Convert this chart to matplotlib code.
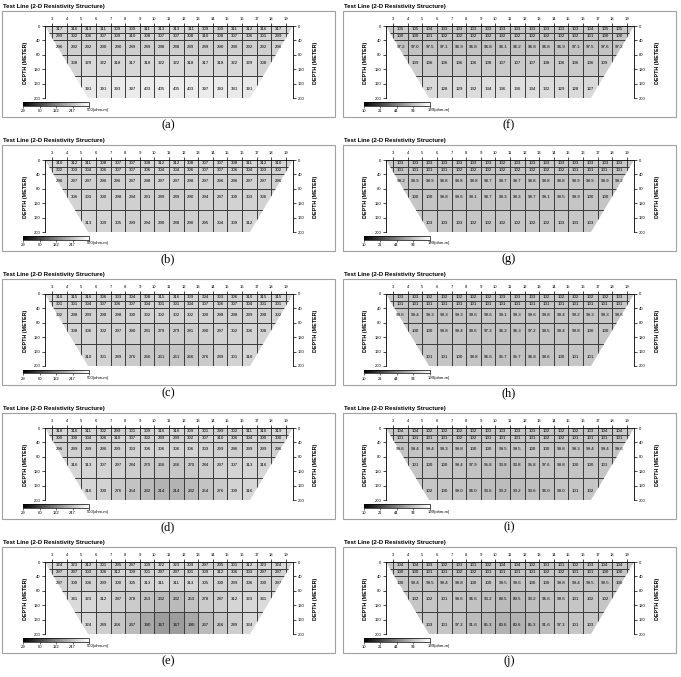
import numpy as np
import matplotlib.pyplot as plt
import matplotlib.cm as cm
from matplotlib.colors import LogNorm
from matplotlib.patches import Polygon, Rectangle
from matplotlib.ticker import NullLocator

W, H = 681, 677

# layer boundaries (m) and depth at which each layer's values are printed
layer_edges = [0, 19.5, 40, 80, 140, 200]
text_depths = [8.5, 28, 58, 104, 175]
electrodes = list(range(3, 20))
depth_ticks = [0, 40, 80, 120, 160, 200]
bar_ticks_left = [29, 60, 122, 247, 500]
bar_ticks_right = [10, 21, 44, 94, 199]
letters = ["a", "b", "c", "d", "e", "f", "g", "h", "i", "j"]

panel_a = [
    [317, 316, 313, 311, 309, 309, 311, 313, 313, 311, 309, 309, 311, 312, 316, 317],
    [299, 302, 306, 307, 309, 310, 308, 307, 307, 308, 310, 308, 307, 306, 301, 299],
    [296, 292, 292, 290, 290, 289, 289, 288, 288, 289, 289, 290, 290, 292, 292, 296],
    [308, 329, 322, 318, 317, 318, 322, 322, 318, 317, 318, 322, 329, 308],
    [391, 391, 393, 397, 403, 405, 405, 403, 397, 393, 391, 391],
]
panel_b = [
    [310, 312, 311, 308, 307, 307, 308, 312, 312, 308, 307, 307, 308, 311, 312, 310],
    [302, 303, 304, 306, 307, 307, 306, 304, 304, 306, 307, 307, 306, 304, 303, 302],
    [296, 297, 297, 296, 296, 297, 298, 297, 297, 298, 297, 296, 296, 297, 297, 296],
    [306, 303, 300, 298, 294, 291, 289, 289, 290, 294, 297, 300, 303, 306],
    [313, 309, 305, 299, 294, 290, 288, 290, 295, 304, 309, 312],
]
panel_c = [
    [316, 315, 316, 306, 303, 304, 308, 315, 316, 309, 304, 303, 306, 310, 315, 315],
    [301, 301, 304, 307, 306, 307, 304, 301, 301, 304, 307, 306, 307, 304, 301, 301],
    [302, 298, 299, 298, 298, 300, 302, 302, 302, 302, 300, 298, 298, 299, 298, 302],
    [308, 306, 302, 297, 290, 281, 279, 279, 281, 290, 297, 302, 306, 308],
    [310, 301, 289, 276, 266, 261, 261, 266, 276, 289, 301, 310],
]
panel_d = [
    [318, 316, 311, 302, 299, 301, 309, 316, 316, 309, 301, 299, 302, 311, 316, 319],
    [300, 300, 304, 306, 310, 307, 302, 299, 299, 302, 307, 310, 306, 304, 300, 300],
    [296, 299, 299, 296, 299, 303, 306, 306, 306, 306, 303, 299, 296, 299, 299, 296],
    [316, 313, 307, 297, 284, 270, 266, 266, 270, 284, 297, 307, 313, 316],
    [316, 300, 276, 254, 232, 214, 214, 232, 254, 276, 300, 316],
]
panel_e = [
    [324, 323, 312, 301, 295, 297, 309, 322, 323, 309, 297, 295, 301, 312, 323, 324],
    [297, 297, 303, 306, 312, 309, 301, 297, 297, 301, 309, 312, 306, 303, 297, 297],
    [297, 300, 306, 299, 300, 305, 313, 311, 311, 313, 305, 300, 299, 306, 300, 297],
    [331, 323, 312, 287, 278, 253, 232, 232, 253, 278, 287, 312, 323, 331],
    [324, 289, 266, 237, 190, 167, 167, 190, 237, 266, 289, 324],
]
panel_f = [
    [105, 105, 104, 103, 103, 103, 103, 103, 103, 103, 103, 103, 103, 104, 105, 105],
    [100, 100, 101, 102, 102, 102, 102, 102, 102, 102, 102, 102, 102, 101, 100, 100],
    [97.2, 97.0, 97.5, 97.1, 96.9, 96.8, 96.8, 96.1, 96.2, 96.8, 96.8, 96.9, 97.1, 97.5, 97.6, 97.2],
    [109, 106, 106, 106, 106, 108, 107, 107, 107, 108, 106, 106, 106, 109],
    [127, 128, 129, 132, 134, 136, 136, 134, 132, 129, 128, 127],
]
panel_g = [
    [103, 103, 103, 103, 103, 103, 103, 102, 103, 103, 103, 103, 103, 103, 103, 103],
    [101, 101, 101, 101, 102, 102, 102, 102, 102, 102, 102, 102, 101, 101, 101, 101],
    [99.2, 98.9, 98.9, 98.8, 98.8, 98.8, 98.7, 98.7, 98.7, 98.8, 98.8, 98.8, 98.9, 98.9, 98.9, 99.2],
    [100, 100, 99.8, 99.6, 99.1, 98.7, 98.3, 98.3, 98.7, 99.1, 99.5, 99.9, 100, 100],
    [103, 103, 103, 102, 102, 102, 102, 102, 102, 103, 103, 103],
]
panel_h = [
    [103, 103, 102, 102, 102, 102, 102, 103, 103, 103, 102, 102, 102, 102, 102, 103],
    [101, 101, 101, 101, 101, 101, 101, 101, 101, 101, 101, 101, 101, 101, 101, 101],
    [99.6, 99.4, 99.3, 99.3, 99.3, 99.6, 99.6, 99.1, 99.3, 99.6, 99.8, 99.4, 99.2, 99.3, 99.3, 99.6],
    [100, 100, 99.8, 99.4, 98.6, 97.3, 96.2, 96.3, 97.2, 98.5, 99.4, 99.8, 100, 100],
    [101, 101, 100, 98.8, 96.6, 95.7, 95.7, 96.8, 98.6, 100, 101, 101],
]
panel_i = [
    [104, 104, 102, 102, 102, 102, 103, 103, 103, 103, 102, 102, 102, 103, 104, 104],
    [101, 101, 101, 101, 102, 102, 101, 101, 101, 101, 102, 102, 101, 101, 101, 101],
    [99.6, 99.4, 99.4, 99.3, 99.8, 100.0, 100.0, 99.5, 99.5, 100.0, 100.0, 99.8, 99.3, 99.4, 99.4, 99.6],
    [101, 100, 100, 99.4, 97.9, 95.8, 93.8, 93.8, 95.8, 97.6, 99.8, 100, 100, 101],
    [102, 100, 99.0, 96.0, 93.6, 90.2, 90.2, 93.6, 96.0, 99.0, 101, 102],
]
panel_j = [
    [104, 104, 103, 102, 101, 101, 102, 104, 104, 102, 101, 101, 102, 103, 104, 104],
    [100, 100, 101, 101, 102, 102, 101, 101, 101, 101, 102, 102, 101, 101, 100, 100],
    [100, 99.4, 99.5, 99.4, 99.8, 100, 100, 99.5, 99.6, 100, 100, 99.8, 99.4, 99.5, 99.5, 100],
    [102, 102, 101, 99.6, 96.6, 93.2, 89.5, 89.5, 93.2, 96.6, 99.6, 101, 102, 102],
    [103, 101, 97.3, 91.6, 85.3, 80.6, 80.6, 85.3, 91.6, 97.3, 101, 103],
]
panels = [panel_a, panel_b, panel_c, panel_d, panel_e,
          panel_f, panel_g, panel_h, panel_i, panel_j]

plt.rcParams["font.family"] = ["Liberation Sans", "DejaVu Sans"]
fig = plt.figure(figsize=(W / 100, H / 100), dpi=100)
cmap = plt.get_cmap("gray")
line_col = "#3a3a3a"


def px_axes(x0, y0, x1, y1):
    return fig.add_axes([x0 / W, 1 - y1 / H, (x1 - x0) / W, (y1 - y0) / H])


def fx(x):
    return x / W


def fy(y):
    return 1 - y / H


def fmt(v):
    return "%d" % round(v) if v >= 100 else "%.1f" % v


for idx, rows in enumerate(panels):
    col, r = divmod(idx, 5)
    ox, oy = col * 341, r * 134
    if col == 0:
        vmin, vmax, bticks = 29, 500, bar_ticks_left
    else:
        vmin, vmax, bticks = 10, 199, bar_ticks_right
    norm = LogNorm(vmin, vmax)

    fig.patches.append(Rectangle((fx(ox + 2), fy(oy + 117)), 333 / W, 106 / H,
                                 transform=fig.transFigure, fill=False,
                                 ec="#a0a0a0", lw=0.8))
    fig.text(fx(ox + 3), fy(oy + 6.5), "Test Line (2-D Resistivity Structure)",
             fontweight="bold", fontsize=4.3, ha="left", va="center")
    fig.text(fx(ox + 168), fy(oy + 125), "(%s)" % letters[idx],
             family="Liberation Serif", fontsize=9, ha="center", va="center")
    for xl in (ox + 25, ox + 316):
        fig.text(fx(xl), fy(oy + 63), "DEPTH (METER)", rotation=90,
                 fontweight="bold", fontsize=3.9, ha="center", va="center")

    ax = px_axes(ox + 45, oy + 26, ox + 293, oy + 98)
    ax.set_xlim(2.5, 19.5)
    ax.set_ylim(200, 0)
    trap = Polygon([(2.5, 0), (19.5, 0), (16.55, 200), (5.45, 200)],
                   closed=True, fc="none", ec="none")
    ax.add_patch(trap)

    for k, vals in enumerate(rows):
        n = len(vals)
        centers = 11 - n / 2 + 0.5 + np.arange(n)
        edges = np.concatenate([[2.5], centers[:-1] + 0.5, [19.5]])
        top, bot = layer_edges[k], layer_edges[k + 1]
        mesh = ax.pcolormesh(edges, [top, bot], np.array([vals]), cmap=cmap, norm=norm)
        mesh.set_clip_path(trap)
        vl = ax.vlines(np.concatenate([[centers[0] - 0.5], centers + 0.5]), top, bot,
                       colors=line_col, lw=0.7)
        vl.set_clip_path(trap)
        for c, v in zip(centers, vals):
            t = ax.text(c, text_depths[k], fmt(v), ha="center", va="center",
                        fontsize=3.2, clip_on=True)
            t.set_clip_path(trap)
    hl = ax.hlines(layer_edges[1:-1], 2.5, 19.5, colors=line_col, lw=0.7)
    hl.set_clip_path(trap)

    ax.spines["bottom"].set_visible(False)
    for s in ("left", "right", "top"):
        ax.spines[s].set_linewidth(0.6)
    ax.xaxis.tick_top()
    ax.set_xticks(electrodes)
    ax.set_yticks(depth_ticks)
    ax.tick_params(axis="x", top=True, bottom=False, labeltop=True, labelbottom=False,
                   length=2.5, width=0.5, labelsize=3, pad=0.8)
    ax.tick_params(axis="y", left=True, right=True, labelleft=True, labelright=True,
                   length=2.5, width=0.5, labelsize=3, pad=0.8)

    cax = px_axes(ox + 22.7, oy + 102, ox + 89, oy + 105.5)
    cb = fig.colorbar(cm.ScalarMappable(norm=norm, cmap=cmap), cax=cax,
                      orientation="horizontal")
    cb.outline.set_linewidth(0.5)
    cax.xaxis.set_minor_locator(NullLocator())
    cb.set_ticks(bticks)
    cb.set_ticklabels([str(b) for b in bticks[:-1]] + [""])
    cax.tick_params(length=1.5, width=0.4, labelsize=3, pad=0.8)
    fig.text(fx(ox + 86.5), fy(oy + 109.5), "%d(ohm-m)" % bticks[-1],
             fontsize=3, ha="left", va="center")

fig.savefig("out.png", dpi=100)
